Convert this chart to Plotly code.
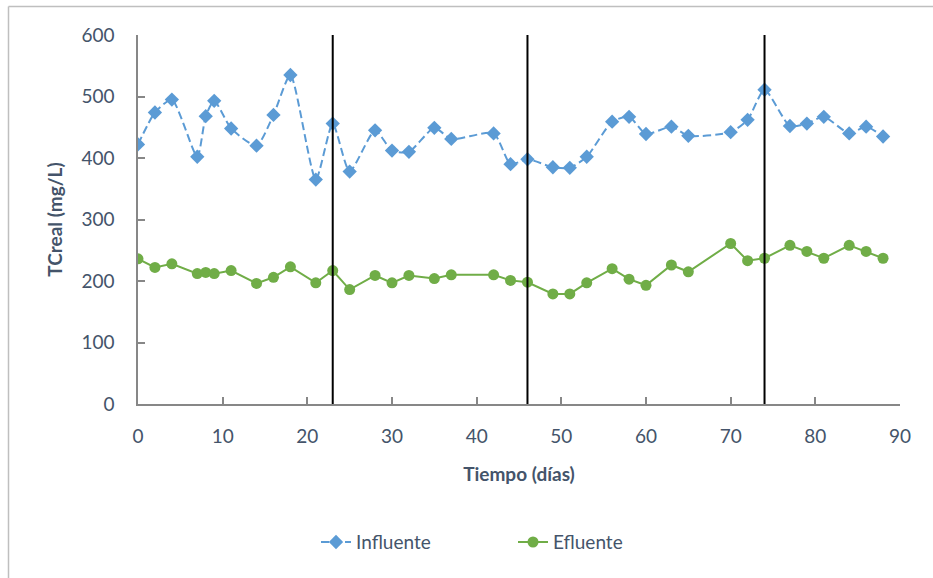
import plotly.graph_objects as go

# Sampling days and total carbon (mg/L) measured at the reactor inlet / outlet
dias_inf = [0, 2, 4, 7, 8, 9, 11, 14, 16, 18, 21, 23, 25, 28, 30, 32, 35, 37, 42, 44, 46,
            49, 51, 53, 56, 58, 60, 63, 65, 70, 72, 74, 77, 79, 81, 84, 86, 88]
influente = [422, 474, 495, 402, 468, 493, 448, 420, 470, 535, 365, 456, 378, 445, 412, 410,
             449, 431, 440, 390, 398, 385, 384, 402, 459, 467, 439, 451, 436, 442, 462, 511,
             452, 456, 467, 440, 451, 435]

dias_ef = [0, 2, 4, 7, 8, 9, 11, 14, 16, 18, 21, 23, 25, 28, 30, 32, 35, 37, 42, 44, 46,
           49, 51, 53, 56, 58, 60, 63, 65, 70, 72, 74, 77, 79, 81, 84, 86, 88]
efluente = [236, 222, 228, 212, 214, 212, 217, 196, 206, 223, 197, 217, 186, 209, 197, 209,
            204, 210, 210, 201, 198, 179, 179, 197, 220, 203, 193, 226, 215, 261, 233, 237,
            258, 248, 237, 258, 248, 237]

# Days where the operating phase changes
cambios_fase = [23, 46, 74]

x_ticks = [0, 10, 20, 30, 40, 50, 60, 70, 80, 90]
y_ticks = [0, 100, 200, 300, 400, 500, 600]

FONT = "Lato"
TXT = "#44546A"
AXIS = "#878787"

fig = go.Figure()

fig.add_trace(go.Scatter(
    x=dias_inf, y=influente, name="Influente", mode="lines+markers",
    line=dict(color="#5B9BD5", width=2, dash="8px,4px", shape="spline", smoothing=0.6),
    marker=dict(symbol="diamond", size=11, color="#5B9BD5"),
))
fig.add_trace(go.Scatter(
    x=dias_ef, y=efluente, name="Efluente", mode="lines+markers",
    line=dict(color="#70AD47", width=2),
    marker=dict(symbol="circle", size=11, color="#70AD47"),
))

shapes = []
for d in cambios_fase:
    shapes.append(dict(type="line", xref="x", yref="paper", x0=d, x1=d, y0=0, y1=1,
                       line=dict(color="#000000", width=2)))

# Chart-area frame (left and top edges)
px_l, px_r, py_t, py_b = 138, 900, 35, 404
def to_px(x):
    return (x - px_l) / (px_r - px_l)
def to_py(y):
    return (py_b - y) / (py_b - py_t)
shapes.append(dict(type="line", xref="paper", yref="paper", x0=to_px(8.5), x1=to_px(8.5),
                   y0=to_py(6.5), y1=to_py(580), line=dict(color="#BFBFBF", width=1.5)))
shapes.append(dict(type="line", xref="paper", yref="paper", x0=to_px(8.5), x1=to_px(935),
                   y0=to_py(6.5), y1=to_py(6.5), line=dict(color="#BFBFBF", width=1.5)))

fig.update_layout(
    width=933, height=578,
    margin=dict(l=138, r=33, t=35, b=174),
    paper_bgcolor="white", plot_bgcolor="white",
    font=dict(family=FONT, color=TXT, size=19),
    showlegend=True,
    legend=dict(orientation="h", xref="container", yref="container",
                x=316 / 933, xanchor="left", y=0.062, yanchor="middle",
                font=dict(family=FONT, size=19, color=TXT),
                entrywidth=152, entrywidthmode="pixels",
                traceorder="normal"),
    shapes=shapes,
    xaxis=dict(range=[0, 90], tickvals=x_ticks, ticks="inside", ticklen=7, tickwidth=1.5,
               tickcolor=AXIS, showline=True, linecolor=AXIS, linewidth=1.5,
               showgrid=False, zeroline=False, ticklabelstandoff=14,
               tickfont=dict(family=FONT, size=19, color=TXT),
               title=dict(text="<b>Tiempo (días)</b>", standoff=22,
                          font=dict(family=FONT, size=19, color=TXT))),
    yaxis=dict(range=[0, 600], tickvals=y_ticks, ticks="inside", ticklen=7, tickwidth=1.5,
               tickcolor=AXIS, showline=True, linecolor=AXIS, linewidth=1.5,
               showgrid=False, zeroline=False, ticklabelstandoff=18,
               tickfont=dict(family=FONT, size=19, color=TXT),
               title=dict(text="<b>TCreal (mg/L)</b>", standoff=14,
                          font=dict(family=FONT, size=19, color=TXT))),
)

fig.write_html("out.html")
